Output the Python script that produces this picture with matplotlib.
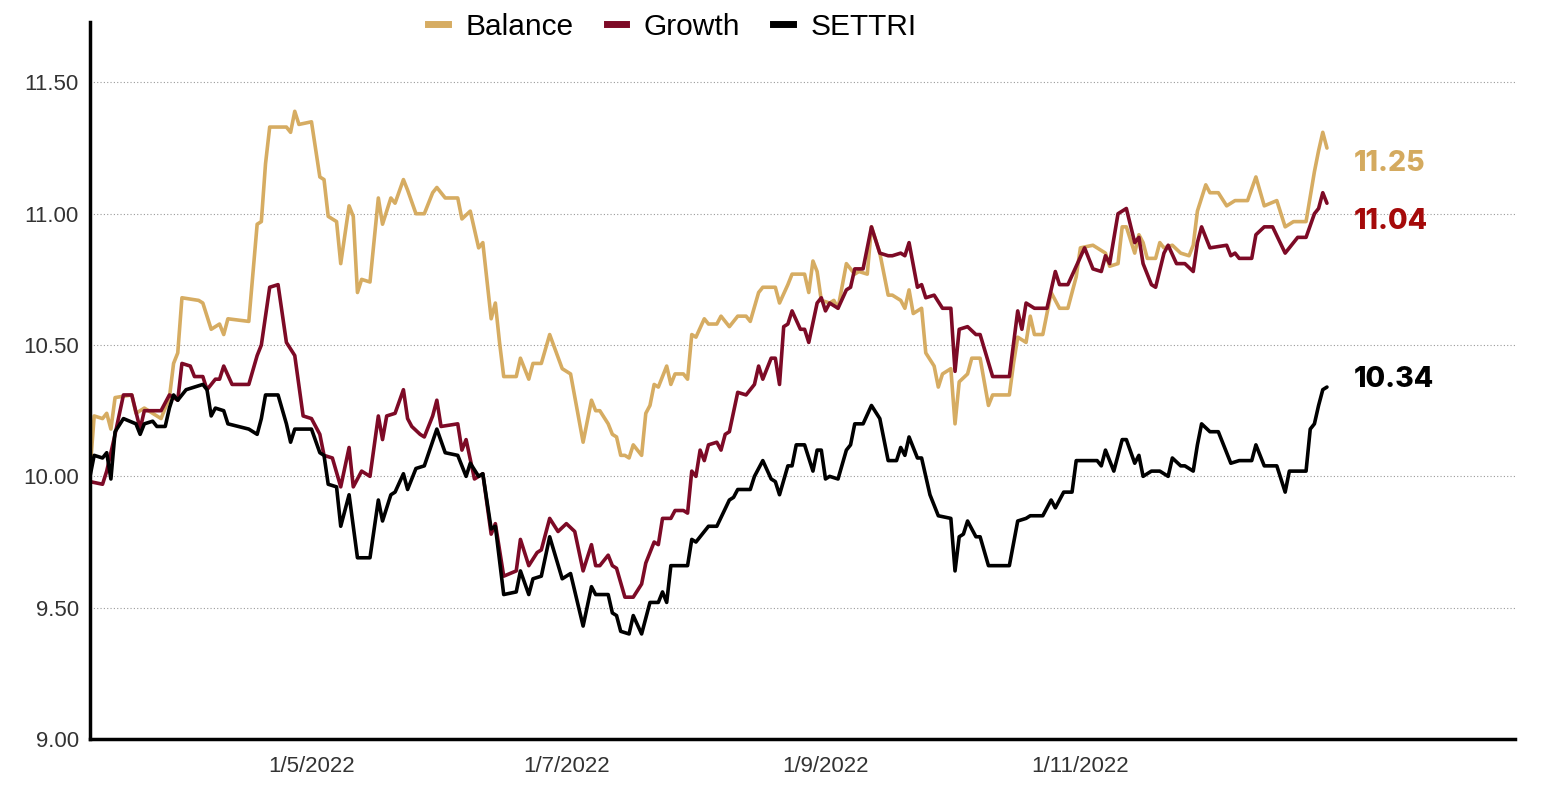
import pandas as pd
import matplotlib
matplotlib.use("Agg")
import matplotlib.pyplot as plt
from matplotlib.lines import Line2D

# days counted from START
START = "2022-03-09"

bal_days = [0, 1, 3, 4, 5, 6, 10, 11, 13, 15, 17, 19, 20, 21, 22, 26, 27, 29, 31, 32, 33, 38, 40, 41, 42, 43,
            47, 48, 49, 50, 53, 55, 56, 57, 59, 60, 62, 63, 64, 65, 67, 69, 70, 72, 73, 75, 76, 78, 80, 82, 83,
            85, 88, 89, 91, 93, 94, 96, 97, 98, 99, 102, 103, 105, 106, 108, 110, 113, 115, 118, 120, 121, 122,
            124, 125, 126, 127, 128, 129, 130, 132, 133, 134, 135, 136, 138, 139, 140, 142, 143, 144, 145, 147,
            148, 150, 151, 153, 155, 157, 158, 160, 161, 164, 165, 167, 168, 171, 172, 173, 174, 175, 177, 178,
            179, 181, 182, 183, 184, 186, 187, 189, 191, 192, 194, 195, 196, 197, 199, 200, 202, 203, 204, 206,
            207, 208, 210, 211, 213, 215, 216, 220, 221, 222, 224, 225, 226, 228, 230, 232, 234, 236, 237, 240,
            243, 244, 246, 247, 248, 250, 251, 252, 253, 255, 256, 257, 259, 261, 263, 264, 265, 267, 268, 270,
            272, 274, 277, 279, 281, 284, 286, 287, 288, 291, 293, 294, 295, 296]
bal_vals = [10.02, 10.23, 10.22, 10.24, 10.18, 10.30, 10.31, 10.24, 10.26, 10.24, 10.22, 10.30, 10.43, 10.47,
            10.68, 10.67, 10.66, 10.56, 10.58, 10.54, 10.60, 10.59, 10.96, 10.97, 11.19, 11.33, 11.33, 11.31,
            11.39, 11.34, 11.35, 11.14, 11.13, 10.99, 10.97, 10.81, 11.03, 10.99, 10.70, 10.75, 10.74, 11.06,
            10.96, 11.06, 11.04, 11.13, 11.09, 11.00, 11.00, 11.08, 11.10, 11.06, 11.06, 10.98, 11.01, 10.87,
            10.89, 10.60, 10.66, 10.51, 10.38, 10.38, 10.45, 10.37, 10.43, 10.43, 10.54, 10.41, 10.39, 10.13,
            10.29, 10.25, 10.25, 10.20, 10.16, 10.15, 10.08, 10.08, 10.07, 10.12, 10.08, 10.24, 10.27, 10.35,
            10.34, 10.42, 10.35, 10.39, 10.39, 10.37, 10.54, 10.53, 10.60, 10.58, 10.58, 10.61, 10.57, 10.61,
            10.61, 10.59, 10.70, 10.72, 10.72, 10.66, 10.73, 10.77, 10.77, 10.70, 10.82, 10.78, 10.67, 10.66,
            10.67, 10.64, 10.81, 10.79, 10.77, 10.78, 10.77, 10.95, 10.85, 10.69, 10.69, 10.67, 10.64, 10.71,
            10.62, 10.64, 10.47, 10.42, 10.34, 10.39, 10.41, 10.20, 10.36, 10.39, 10.45, 10.45, 10.27, 10.31,
            10.31, 10.43, 10.53, 10.51, 10.61, 10.54, 10.54, 10.70, 10.64, 10.64, 10.76, 10.87, 10.88, 10.85,
            10.80, 10.81, 10.95, 10.95, 10.85, 10.92, 10.89, 10.83, 10.83, 10.89, 10.87, 10.88, 10.85, 10.84,
            10.88, 11.01, 11.11, 11.08, 11.08, 11.03, 11.05, 11.05, 11.14, 11.03, 11.05, 10.95, 10.96, 10.97,
            10.97, 11.16, 11.24, 11.31, 11.25]

grw_days = [0, 3, 4, 6, 8, 10, 12, 13, 17, 19, 21, 22, 24, 25, 27, 28, 30, 31, 32, 34, 38, 40, 41, 43, 45, 47,
            49, 51, 53, 55, 56, 58, 60, 62, 63, 65, 67, 69, 70, 71, 73, 75, 76, 77, 79, 80, 82, 83, 84, 88, 89,
            90, 92, 94, 96, 97, 99, 102, 103, 105, 107, 108, 110, 112, 114, 116, 118, 120, 121, 122, 124, 125,
            126, 128, 130, 132, 133, 135, 136, 137, 139, 140, 142, 143, 144, 145, 146, 147, 148, 150, 151, 152,
            153, 155, 157, 159, 160, 161, 163, 164, 165, 166, 167, 168, 170, 171, 172, 174, 175, 176, 177, 179,
            181, 182, 183, 185, 187, 189, 191, 192, 194, 195, 196, 198, 199, 200, 202, 204, 206, 207, 208, 210,
            212, 213, 216, 220, 222, 223, 224, 226, 229, 231, 232, 234, 236, 238, 240, 242, 243, 244, 246, 247,
            248, 250, 251, 252, 254, 255, 257, 258, 260, 262, 264, 265, 266, 268, 272, 273, 274, 275, 278, 279,
            281, 283, 286, 287, 289, 291, 293, 294, 295, 296]
grw_vals = [9.98, 9.97, 10.02, 10.16, 10.31, 10.31, 10.18, 10.25, 10.25, 10.31, 10.29, 10.43, 10.42, 10.38,
            10.38, 10.33, 10.37, 10.37, 10.42, 10.35, 10.35, 10.46, 10.50, 10.72, 10.73, 10.51, 10.46, 10.23,
            10.22, 10.16, 10.08, 10.07, 9.96, 10.11, 9.96, 10.02, 10.00, 10.23, 10.14, 10.23, 10.24, 10.33,
            10.22, 10.19, 10.16, 10.15, 10.23, 10.29, 10.19, 10.20, 10.10, 10.14, 9.99, 10.01, 9.78, 9.82, 9.62,
            9.64, 9.76, 9.66, 9.71, 9.72, 9.84, 9.79, 9.82, 9.79, 9.64, 9.74, 9.66, 9.66, 9.70, 9.66, 9.65, 9.54,
            9.54, 9.59, 9.67, 9.75, 9.74, 9.84, 9.84, 9.87, 9.87, 9.86, 10.02, 10.00, 10.10, 10.06, 10.12, 10.13,
            10.10, 10.16, 10.17, 10.32, 10.31, 10.35, 10.42, 10.37, 10.45, 10.45, 10.35, 10.57, 10.58, 10.63,
            10.56, 10.56, 10.51, 10.66, 10.68, 10.63, 10.66, 10.64, 10.71, 10.72, 10.79, 10.79, 10.95, 10.85,
            10.84, 10.84, 10.85, 10.84, 10.89, 10.72, 10.73, 10.68, 10.69, 10.64, 10.64, 10.40, 10.56, 10.57,
            10.54, 10.54, 10.38, 10.38, 10.63, 10.56, 10.66, 10.64, 10.64, 10.78, 10.73, 10.73, 10.80, 10.87,
            10.79, 10.78, 10.84, 10.81, 11.00, 11.01, 11.02, 10.89, 10.91, 10.81, 10.73, 10.72, 10.85, 10.88,
            10.81, 10.81, 10.78, 10.89, 10.95, 10.87, 10.88, 10.84, 10.85, 10.83, 10.83, 10.92, 10.95, 10.95,
            10.85, 10.87, 10.91, 10.91, 11.00, 11.02, 11.08, 11.04]

set_days = [0, 1, 3, 4, 5, 6, 8, 11, 12, 13, 15, 16, 18, 19, 20, 21, 23, 25, 27, 28, 29, 30, 32, 33, 38, 40, 41,
            42, 45, 47, 48, 49, 53, 55, 56, 57, 59, 60, 62, 64, 67, 69, 70, 72, 73, 75, 76, 78, 80, 83, 85, 88,
            90, 91, 93, 94, 96, 97, 99, 102, 103, 105, 106, 108, 110, 113, 115, 118, 120, 121, 124, 125, 126,
            127, 129, 130, 132, 134, 136, 137, 138, 139, 143, 144, 145, 148, 150, 153, 154, 155, 158, 159, 161,
            163, 164, 165, 167, 168, 169, 171, 173, 174, 175, 176, 177, 179, 181, 182, 183, 185, 187, 189, 191,
            193, 194, 195, 196, 198, 199, 201, 203, 206, 207, 208, 209, 210, 212, 213, 215, 220, 222, 224, 225,
            228, 230, 231, 233, 235, 236, 240, 241, 242, 243, 245, 247, 248, 250, 251, 252, 254, 256, 258, 259,
            261, 262, 264, 265, 266, 268, 270, 273, 275, 278, 279, 281, 284, 286, 287, 291, 292, 293, 294, 295,
            296]
set_vals = [10.00, 10.08, 10.07, 10.09, 9.99, 10.17, 10.22, 10.20, 10.16, 10.20, 10.21, 10.19, 10.19, 10.26,
            10.31, 10.29, 10.33, 10.34, 10.35, 10.33, 10.23, 10.26, 10.25, 10.20, 10.18, 10.16, 10.22, 10.31,
            10.31, 10.20, 10.13, 10.18, 10.18, 10.09, 10.08, 9.97, 9.96, 9.81, 9.93, 9.69, 9.69, 9.91, 9.83,
            9.93, 9.94, 10.01, 9.95, 10.03, 10.04, 10.18, 10.09, 10.08, 10.00, 10.05, 10.00, 10.01, 9.80, 9.81,
            9.55, 9.56, 9.64, 9.55, 9.61, 9.62, 9.77, 9.61, 9.63, 9.43, 9.58, 9.55, 9.55, 9.48, 9.47, 9.41, 9.40,
            9.47, 9.40, 9.52, 9.52, 9.56, 9.52, 9.66, 9.66, 9.76, 9.75, 9.81, 9.81, 9.91, 9.92, 9.95, 9.95,
            10.00, 10.06, 9.99, 9.98, 9.93, 10.04, 10.04, 10.12, 10.12, 10.02, 10.10, 10.10, 9.99, 10.00, 9.99,
            10.10, 10.12, 10.20, 10.20, 10.27, 10.22, 10.06, 10.06, 10.11, 10.08, 10.15, 10.07, 10.07, 9.93,
            9.85, 9.84, 9.64, 9.77, 9.78, 9.83, 9.77, 9.77, 9.66, 9.66, 9.83, 9.84, 9.85, 9.85, 9.91, 9.88, 9.94,
            9.94, 10.06, 10.06, 10.06, 10.04, 10.10, 10.02, 10.14, 10.14, 10.05, 10.08, 10.00, 10.02, 10.02,
            10.00, 10.07, 10.04, 10.04, 10.02, 10.12, 10.20, 10.17, 10.17, 10.05, 10.06, 10.06, 10.12, 10.04,
            10.04, 9.94, 10.02, 10.02, 10.18, 10.20, 10.27, 10.33, 10.34]

series_names = ["Balance", "Growth", "SETTRI"]
x_ticks = ["2022-05-01", "2022-07-01", "2022-09-01", "2022-11-01"]
y_ticks = [9.0, 9.5, 10.0, 10.5, 11.0, 11.5]

line_colors = ["#D6AC62", "#7D0A26", "#000000"]
label_colors = ["#D4AA5F", "#A50A0A", "#000000"]
label_offsets = [(19, -11), (19, -13), (19, 5.5)]  # points


def to_dates(days):
    return pd.Timestamp(START) + pd.to_timedelta(days, unit="D")


fig = plt.figure(figsize=(15.46, 7.88), dpi=100)
ax = fig.add_axes([90 / 1546, 49 / 788, 1425 / 1546, 717 / 788])

series = [(bal_days, bal_vals), (grw_days, grw_vals), (set_days, set_vals)]
for (days, vals), name, color, lcol, off in zip(series, series_names, line_colors, label_colors, label_offsets):
    x = to_dates(days)
    ax.plot(x, vals, color=color, lw=2.6, solid_joinstyle="round", solid_capstyle="round", label=name)
    ax.annotate(f"{vals[-1]:.2f}", xy=(x[-1], vals[-1]), xytext=off, textcoords="offset points",
                ha="left", va="center", fontsize=20.5, fontweight="heavy", color=lcol,
                family=["Inter", "DejaVu Sans"])

ax.set_xlim(pd.Timestamp(START), pd.Timestamp(START) + pd.Timedelta(days=341))
ax.set_ylim(9.0, 11.73)

ax.set_yticks(y_ticks)
ax.set_yticklabels([f"{v:.2f}" for v in y_ticks])
tick_dates = pd.to_datetime(x_ticks)
ax.set_xticks(tick_dates)
ax.set_xticklabels([f"{d.day}/{d.month}/{d.year}" for d in tick_dates])

for lab in ax.get_xticklabels() + ax.get_yticklabels():
    lab.set_family(["Liberation Sans", "DejaVu Sans"])
    lab.set_color("#333333")
ax.tick_params(axis="y", length=0, pad=8, labelsize=16)
ax.tick_params(axis="x", length=0, pad=12, labelsize=16)

ax.yaxis.grid(True, linestyle=(0, (1, 2)), color="#9a9a9a", linewidth=0.8)
ax.set_axisbelow(True)

for side in ["top", "right"]:
    ax.spines[side].set_visible(False)
for side in ["left", "bottom"]:
    ax.spines[side].set_linewidth(2.5)
    ax.spines[side].set_color("black")

handles = [Line2D([0], [0], color=c, lw=5) for c in line_colors]
fig.legend(handles, series_names, loc="center", bbox_to_anchor=(0.435, 0.966), ncol=3, frameon=False,
           handlelength=0.65, handletextpad=0.6, columnspacing=1.1,
           prop={"family": ["Liberation Sans", "DejaVu Sans"], "size": 21.5})

fig.savefig("out.png", dpi=100)
